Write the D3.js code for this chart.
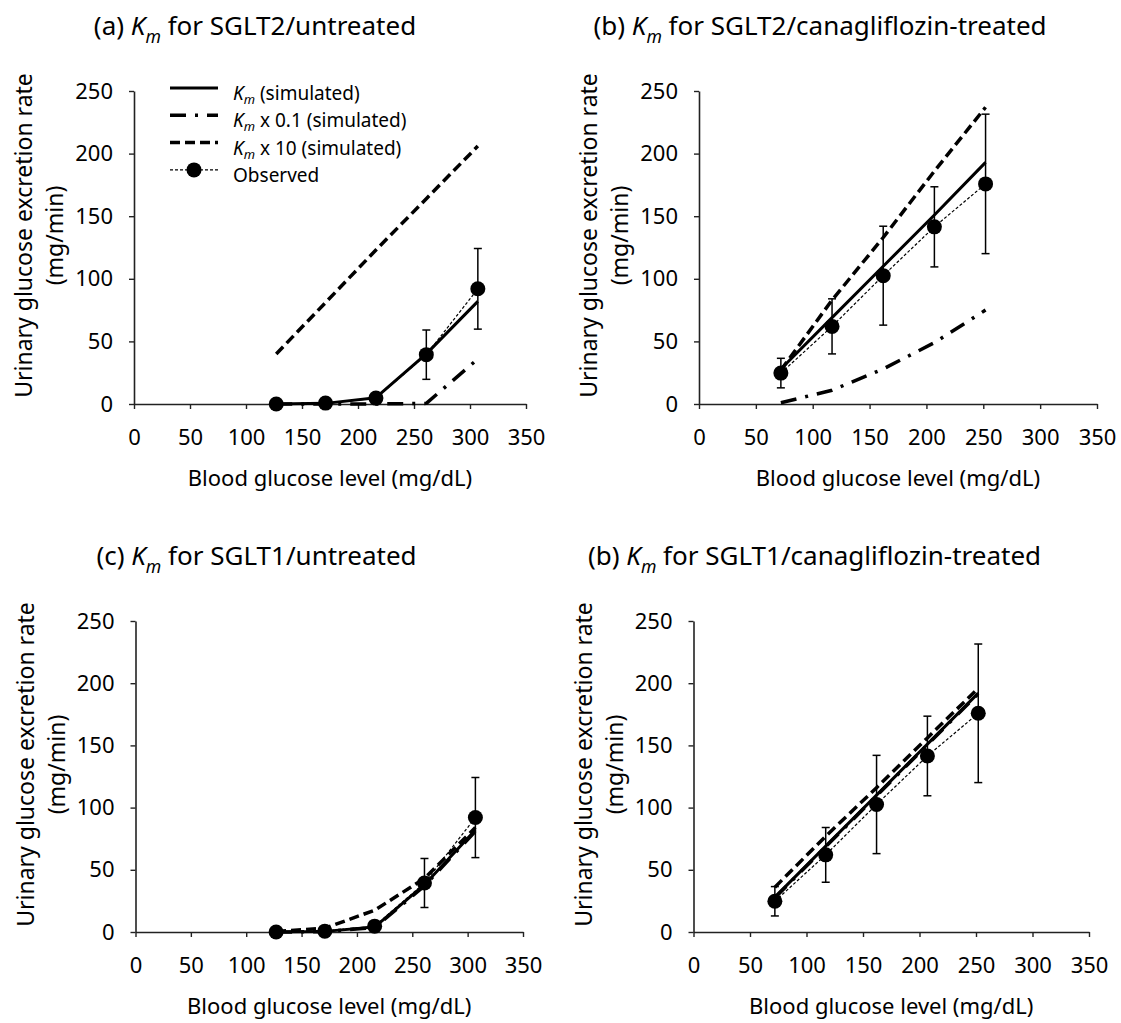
<!DOCTYPE html>
<html><head><meta charset="utf-8">
<script src="https://cdn.jsdelivr.net/npm/d3@7"></script>
<style>
html,body{margin:0;padding:0;background:#fff;}
svg text{font-family:"Noto Sans","Open Sans",sans-serif;fill:#000;}
</style></head>
<body>
<svg id="chart" width="1121" height="1023"></svg>
<script>
// ---------------- data ----------------
const xTicks = [0, 50, 100, 150, 200, 250, 300, 350];
const yTicks = [0, 50, 100, 150, 200, 250];

const panelTitles = ["(a)", "(b)", "(c)", "(b)"];
const panelSubjects = [" for SGLT2/untreated", " for SGLT2/canagliflozin-treated",
                       " for SGLT1/untreated", " for SGLT1/canagliflozin-treated"];

const untreatedGlucose = [127, 171, 216, 261, 307];
const untreatedObserved = [0, 0.7, 4.7, 39.4, 92];
const untreatedObservedErr = [0, 0, 0, 19.7, 32.2];

const treatedGlucose = [72, 117, 162, 207, 252];
const treatedObserved = [24.7, 62, 102.5, 141.5, 175.8];
const treatedObservedErr = [11.8, 22, 39.5, 32, 55.7];

const sglt2UntreatedKm   = [0, 0.5, 5, 40, 82];
const sglt2UntreatedKm01 = [0, 0, 0, 0.5, 36];
const sglt2UntreatedKm10 = [40, 81, 123, 164, 206];

const sglt2TreatedKm   = [28, 69, 110, 151, 193];
const sglt2TreatedKm01 = [1, 11, 28, 49, 75];
const sglt2TreatedKm10 = [27, 83, 133, 186, 237];

const sglt1UntreatedKm   = [0, 0.5, 4, 38, 82];
const sglt1UntreatedKm01 = [0, 0.3, 3.5, 37, 81];
const sglt1UntreatedKm10 = [0.5, 3, 17.5, 43, 84];

const sglt1TreatedKm   = [28, 69, 110, 151, 192];
const sglt1TreatedKm01 = [27.5, 68.5, 109.5, 150.5, 191.5];
const sglt1TreatedKm10 = [36, 77, 116, 156, 196];

const legendLabels = [" (simulated)", " x 0.1 (simulated)", " x 10 (simulated)", "Observed"];
const xAxisTitle = "Blood glucose level (mg/dL)";
const yAxisTitle1 = "Urinary  glucose excretion rate";
const yAxisTitle2 = "(mg/min)";

// ---------------- layout ----------------
const panels = [
  {x0:134, x1:526, y0:404, y1:91, glucose:untreatedGlucose, obs:untreatedObserved, err:untreatedObservedErr,
   km:sglt2UntreatedKm, km01:sglt2UntreatedKm01, km10:sglt2UntreatedKm10, legend:true},
  {x0:699, x1:1097, y0:404, y1:91, glucose:treatedGlucose, obs:treatedObserved, err:treatedObservedErr,
   km:sglt2TreatedKm, km01:sglt2TreatedKm01, km10:sglt2TreatedKm10},
  {x0:135.5, x1:523, y0:932, y1:621, glucose:untreatedGlucose, obs:untreatedObserved, err:untreatedObservedErr,
   km:sglt1UntreatedKm, km01:sglt1UntreatedKm01, km10:sglt1UntreatedKm10},
  {x0:693.5, x1:1089, y0:932, y1:621, glucose:treatedGlucose, obs:treatedObserved, err:treatedObservedErr,
   km:sglt1TreatedKm, km01:sglt1TreatedKm01, km10:sglt1TreatedKm10}
];

const styles = {
  km:   {w:3, dash:null},
  km01: {w:3.5, dash:"16,9,3,9"},
  km10: {w:3.5, dash:"10,5"},
  obs:  {w:1.2, dash:"3,2"}
};

const svg = d3.select("#chart");

function addKm(sel, size, sub) {
  sel.append("tspan").attr("font-style","italic").text("K");
  sel.append("tspan").attr("font-style","italic").attr("font-size", size*0.68).attr("dy", size*sub).text("m");
}

panels.forEach((p, i) => {
  const x = d3.scaleLinear().domain([0, 350]).range([p.x0, p.x1]);
  const y = d3.scaleLinear().domain([0, 250]).range([p.y0, p.y1]);
  const g = svg.append("g");

  // axes
  const xAxis = d3.axisBottom(x).tickValues(xTicks).tickSize(5).tickSizeOuter(0).tickPadding(20);
  const yAxis = d3.axisLeft(y).tickValues(yTicks).tickSize(5).tickSizeOuter(0).tickPadding(16);
  const gx = g.append("g").attr("transform", `translate(0,${p.y0})`).call(xAxis);
  const gy = g.append("g").attr("transform", `translate(${p.x0},0)`).call(yAxis);
  [gx, gy].forEach(a => {
    a.selectAll("path.domain").attr("stroke", "#222").attr("stroke-width", 1.6);
    a.selectAll(".tick line").attr("stroke", "#222").attr("stroke-width", 1.4);
    a.selectAll(".tick text").attr("font-size", 22).attr("font-family", "'Noto Sans',sans-serif").attr("fill", "#000");
  });

  // axis titles
  g.append("text").attr("x", (p.x0 + p.x1) / 2).attr("y", p.y0 + 82)
    .attr("text-anchor", "middle").attr("font-size", 22).text(xAxisTitle);
  const yc = (p.y0 + p.y1) / 2 - 12;
  g.append("text").attr("transform", `translate(${p.x0 - 111},${yc}) rotate(-90)`)
    .attr("text-anchor", "middle").attr("dominant-baseline", "central").attr("font-size", 23).text(yAxisTitle1);
  g.append("text").attr("transform", `translate(${p.x0 - 80},${yc}) rotate(-90)`)
    .attr("text-anchor", "middle").attr("dominant-baseline", "central").attr("font-size", 23).text(yAxisTitle2);

  // panel title
  const t = g.append("text").attr("x", p.x0 + 121).attr("y", p.y1 - 56)
    .attr("text-anchor", "middle").attr("font-size", 26);
  t.append("tspan").text(panelTitles[i] + " ");
  addKm(t, 26, 0.3);
  t.append("tspan").attr("dy", -26*0.3).text(panelSubjects[i]);

  // lines
  const line = d3.line().x((d, j) => x(p.glucose[j])).y(d => y(d));
  ["km10", "km01", "km"].forEach(k => {
    g.append("path").datum(p[k]).attr("d", line).attr("fill", "none")
      .attr("stroke", "#000").attr("stroke-width", styles[k].w)
      .attr("stroke-dasharray", styles[k].dash).attr("stroke-linejoin", "round");
  });
  g.append("path").datum(p.obs).attr("d", line).attr("fill", "none")
    .attr("stroke", "#000").attr("stroke-width", styles.obs.w).attr("stroke-dasharray", styles.obs.dash);

  // error bars
  const eb = g.append("g").attr("stroke", "#000").attr("stroke-width", 1.5);
  p.obs.forEach((v, j) => {
    const e = p.err[j];
    if (e <= 0) return;
    const cx = x(p.glucose[j]);
    eb.append("line").attr("x1", cx).attr("x2", cx).attr("y1", y(v - e)).attr("y2", y(v + e));
    eb.append("line").attr("x1", cx - 4).attr("x2", cx + 4).attr("y1", y(v - e)).attr("y2", y(v - e));
    eb.append("line").attr("x1", cx - 4).attr("x2", cx + 4).attr("y1", y(v + e)).attr("y2", y(v + e));
  });

  // points
  g.selectAll("circle.obs").data(p.obs).join("circle").attr("class", "obs")
    .attr("cx", (d, j) => x(p.glucose[j])).attr("cy", d => y(d)).attr("r", 7.5).attr("fill", "#000");

  // legend
  if (p.legend) {
    const lg = g.append("g");
    const keys = ["km", "km01", "km10", "obs"];
    keys.forEach((k, j) => {
      const ly = 88 + j * 27.3;
      lg.append("line").attr("x1", 170).attr("x2", 218).attr("y1", ly).attr("y2", ly)
        .attr("stroke", "#000").attr("stroke-width", styles[k].w).attr("stroke-dasharray", styles[k].dash);
      if (k === "obs") lg.append("circle").attr("cx", 194).attr("cy", ly).attr("r", 7.5).attr("fill", "#000");
      const tx = lg.append("text").attr("x", 233).attr("y", ly + 12).attr("font-size", 19);
      if (k !== "obs") { addKm(tx, 19, 0.22); tx.append("tspan").attr("dy", -19*0.22).text(legendLabels[j]); }
      else tx.text(legendLabels[j]);
    });
  }
});
</script>
</body></html>
